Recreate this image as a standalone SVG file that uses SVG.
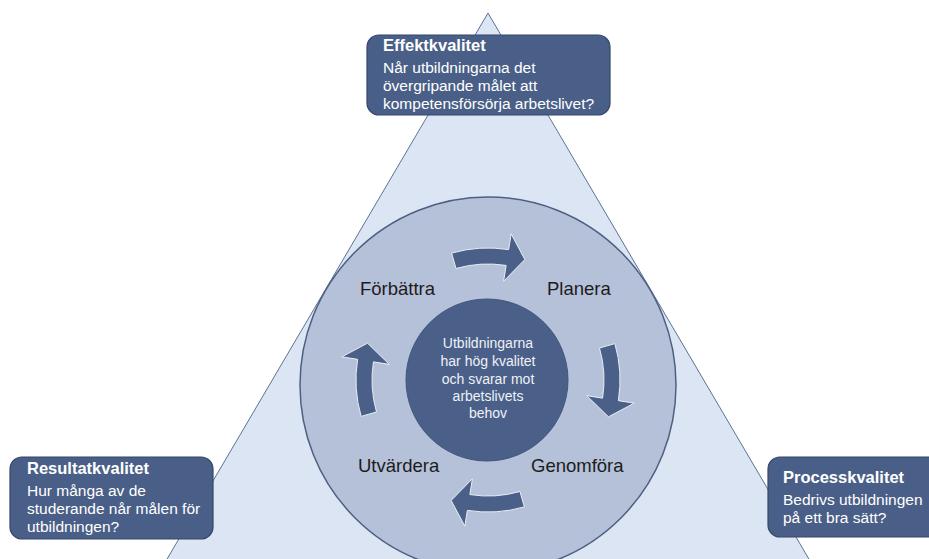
<svg xmlns="http://www.w3.org/2000/svg" width="929" height="559" viewBox="0 0 929 559">
<defs>
<style>
.box{fill:#4a5f88;stroke:#34466a;stroke-width:1.2}
.bt{font-family:"Liberation Sans",Arial,sans-serif;fill:#ffffff;font-size:15.5px}
.bt .h{font-weight:bold;font-size:16.5px}
.lbl{font-family:"Liberation Sans",Arial,sans-serif;fill:#1c1c1c;font-size:18.5px}
.ct{font-family:"Liberation Sans",Arial,sans-serif;fill:#eef1f7;font-size:14px;text-anchor:middle}
.arr{fill:#4b6089;stroke:#e9edf5;stroke-width:1}
</style>
<path id="cyc" d="M -36.38 -126.89 A 132 132 0 0 1 20.65 -130.38 L 23.15 -146.18 L 36.84 -120.49 L 15.64 -98.77 L 18.15 -114.57 A 116 116 0 0 0 -31.97 -111.51 Z"/>
</defs>
<rect width="929" height="559" fill="#ffffff"/>
<g id="triangle">
<polygon points="488,13 833,600 143,600" fill="#dbe5f4" stroke="#5d7290" stroke-width="1"/>
</g>
<g id="ring">
<circle cx="488" cy="385" r="188" fill="#b5c1d9" stroke="#4d6081" stroke-width="1.5"/>
</g>
<g id="core">
<circle cx="487" cy="380" r="81" fill="#4b6089" stroke="#41557c" stroke-width="1"/>
<text class="ct"><tspan x="488" y="348">Utbildningarna</tspan><tspan x="488" y="366">har hög kvalitet</tspan><tspan x="488" y="384">och svarar mot</tspan><tspan x="488" y="401">arbetslivets</tspan><tspan x="488" y="418">behov</tspan></text>
</g>
<g id="connectors">
<use href="#cyc" class="arr" transform="translate(488,380)"/>
<use href="#cyc" class="arr" transform="translate(488,380) rotate(90)"/>
<use href="#cyc" class="arr" transform="translate(488,380) rotate(180)"/>
<use href="#cyc" class="arr" transform="translate(488,380) rotate(270)"/>
</g>
<g id="planera"><text class="lbl" x="547" y="295">Planera</text></g>
<g id="genomfora"><text class="lbl" x="531" y="472">Genomföra</text></g>
<g id="utvardera"><text class="lbl" x="358" y="472">Utvärdera</text></g>
<g id="forbattra"><text class="lbl" x="360" y="295">Förbättra</text></g>
<g id="effektkvalitet">
<rect class="box" x="367" y="35" width="243" height="80" rx="12"/>
<text class="bt"><tspan class="h" x="383" y="51">Effektkvalitet</tspan><tspan x="383" y="73">Når utbildningarna det</tspan><tspan x="383" y="91">övergripande målet att</tspan><tspan x="383" y="109">kompetensförsörja arbetslivet?</tspan></text>
</g>
<g id="resultatkvalitet">
<rect class="box" x="10" y="457" width="203" height="82" rx="12"/>
<text class="bt"><tspan class="h" x="27" y="474">Resultatkvalitet</tspan><tspan x="27" y="496">Hur många av de</tspan><tspan x="27" y="514">studerande når målen för</tspan><tspan x="27" y="532">utbildningen?</tspan></text>
</g>
<g id="processkvalitet">
<rect class="box" x="768" y="457" width="180" height="80" rx="12"/>
<text class="bt"><tspan class="h" x="783" y="483">Processkvalitet</tspan><tspan x="783" y="505">Bedrivs utbildningen</tspan><tspan x="783" y="523">på ett bra sätt?</tspan></text>
</g>
</svg>
